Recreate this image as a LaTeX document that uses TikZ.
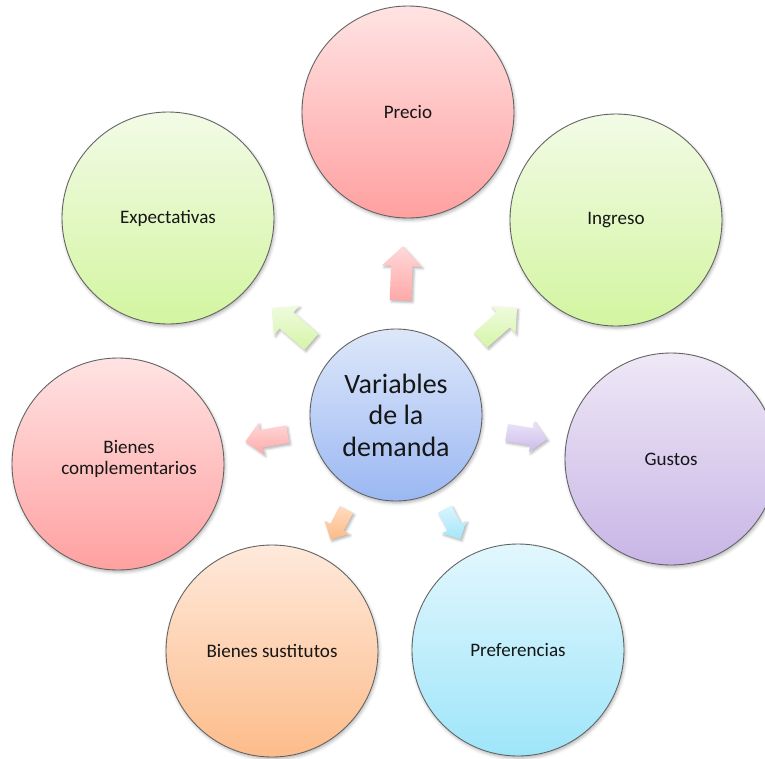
\documentclass[tikz,border=0pt]{standalone}
\usepackage{fontspec}
\setmainfont{Carlito}
\usetikzlibrary{shapes.arrows,shadows.blur,calc}

% bubble fills (top / bottom of the vertical gradient)
\definecolor{redTop}{HTML}{FFE3E3}
\definecolor{redBot}{HTML}{FFA0A0}
\definecolor{greenTop}{HTML}{F2FBE6}
\definecolor{greenBot}{HTML}{D3F5A0}
\definecolor{violetTop}{HTML}{EEE8F6}
\definecolor{violetBot}{HTML}{C8B5E6}
\definecolor{cyanTop}{HTML}{E2F7FD}
\definecolor{cyanBot}{HTML}{9EE5FA}
\definecolor{peachTop}{HTML}{FEE9DB}
\definecolor{peachBot}{HTML}{FDBC8A}
\definecolor{blueTop}{HTML}{DDE7F9}
\definecolor{blueBot}{HTML}{9BB8F3}
% block-arrow fills
\definecolor{redArTop}{HTML}{FFD8D8}
\definecolor{redArBot}{HTML}{FFA8A8}
\definecolor{greenArTop}{HTML}{EFFBDE}
\definecolor{greenArBot}{HTML}{D5F5A6}
\definecolor{violetArTop}{HTML}{EBE4F8}
\definecolor{violetArBot}{HTML}{CBBBEB}
\definecolor{cyanArTop}{HTML}{DAF5FD}
\definecolor{cyanArBot}{HTML}{A4E6FA}
\definecolor{peachArTop}{HTML}{FEDCC2}
\definecolor{peachArBot}{HTML}{FDBA86}
\definecolor{labelInk}{HTML}{161616}

\begin{document}
\begin{tikzpicture}[x=0.75pt,y=-0.75pt,
  softshadow/.style={blur shadow={shadow xshift=0.8pt, shadow yshift=-1.6pt,
      shadow blur radius=2.4pt, shadow opacity=30}},
  bubble/.style={circle, draw=black!62, line width=0.65pt, minimum size=159pt,
      inner sep=0pt, align=center, text=labelInk,
      font=\fontsize{14.3}{15.75}\selectfont, softshadow},
  bubbletext/.style={inner sep=0pt, align=center, text=labelInk,
      font=\fontsize{14.3}{15.75}\selectfont},
  hub/.style={circle, draw=black!62, line width=0.65pt, minimum size=129pt,
      inner sep=0pt, align=center, text=labelInk,
      font=\fontsize{21}{23.6}\selectfont, top color=blueTop, bottom color=blueBot,
      softshadow},
  redfill/.style={top color=redTop, bottom color=redBot},
  greenfill/.style={top color=greenTop, bottom color=greenBot},
  violetfill/.style={top color=violetTop, bottom color=violetBot},
  cyanfill/.style={top color=cyanTop, bottom color=cyanBot},
  peachfill/.style={top color=peachTop, bottom color=peachBot},
  % block arrow: length, half shaft width, head extend, direction
  blockarrow/.style n args={4}{single arrow, draw=none, inner xsep=0pt,
      inner ysep=#2, minimum height=#1, single arrow head extend=#3,
      rotate=#4, shading angle=-#4,
      blur shadow={shadow xshift=1.2pt, shadow yshift=-1.4pt,
      shadow blur radius=1.8pt, shadow opacity=30}},
  redarrow/.style={top color=redArTop, bottom color=redArBot},
  greenarrow/.style={top color=greenArTop, bottom color=greenArBot},
  violetarrow/.style={top color=violetArTop, bottom color=violetArBot},
  cyanarrow/.style={top color=cyanArTop, bottom color=cyanArBot},
  peacharrow/.style={top color=peachArTop, bottom color=peachArBot},
]
\useasboundingbox (0,0) rectangle (765,758);

% outer bubbles
\node[bubble, redfill]    (precio)  at (408,112) {Precio};
\node[bubble, greenfill]  (ingreso) at (616,220) {Ingreso};
\node[bubble, violetfill] (gustos)  at (671,459) {Gustos};
\node[bubble, cyanfill]   (pref)    at (518,650) {Preferencias};
\node[bubble, peachfill]  (sust)    at (272,651) {Bienes sustitutos};
\node[bubble, redfill]    (comp)    at (118,464) {};
\node[bubbletext]         (compText) at ($(comp)+(11,-5)$) {Bienes\\complementarios};
\node[bubble, greenfill]  (expect)  at (168,218) {Expectativas};

% central bubble
\node[hub] (hub) at (396,415) {Variables\\de la\\demanda};

% block arrows pointing from the hub to each bubble
\node[blockarrow={40.5pt}{7.9pt}{6.7pt}{87.7}, redarrow]
  (toPrecio) at ($(hub)!0.45!(precio)$) {};
\node[blockarrow={36.75pt}{7.3pt}{6.2pt}{41.6}, greenarrow]
  (toIngreso) at ($(hub)!0.45!(ingreso)$) {};
\node[blockarrow={30.75pt}{6.3pt}{5.3pt}{-9.1}, violetarrow]
  (toGustos) at ($(hub)!0.46!(gustos)$) {};
\node[blockarrow={25.5pt}{5.45pt}{4.7pt}{-62.6}, cyanarrow]
  (toPref) at ($(hub)!0.45!(pref)$) {};
\node[blockarrow={25.5pt}{5.45pt}{4.7pt}{-117.7}, peacharrow]
  (toSust) at ($(hub)!0.45!(sust)$) {};
\node[blockarrow={32.25pt}{6.5pt}{5.5pt}{190}, redarrow]
  (toComp) at ($(hub)!0.45!(comp)$) {};
\node[blockarrow={39pt}{7.7pt}{6.5pt}{139.2}, greenarrow]
  (toExpect) at ($(hub)!0.44!(expect)$) {};
\end{tikzpicture}
\end{document}
